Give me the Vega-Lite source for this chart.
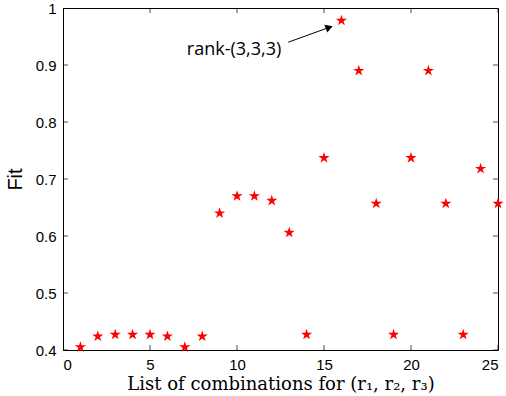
{
  "$schema": "https://vega.github.io/schema/vega-lite/v6.json",
  "width": 435,
  "height": 342,
  "autosize": "none",
  "padding": {"left": 63, "top": 8, "right": 8, "bottom": 46},
  "background": "white",
  "config": {
    "view": {"stroke": "black", "strokeWidth": 1},
    "axis": {"grid": false, "ticks": false, "domainColor": "black", "labelColor": "black", "titleColor": "black", "labelFont": "Liberation Sans", "labelFontSize": 15, "labelPadding": 7}
  },
  "layer": [
    {
      "data": {"values": [
        {"n": 1, "fit": 0.405}, {"n": 2, "fit": 0.424}, {"n": 3, "fit": 0.427}, {"n": 4, "fit": 0.427},
        {"n": 5, "fit": 0.427}, {"n": 6, "fit": 0.424}, {"n": 7, "fit": 0.405}, {"n": 8, "fit": 0.424},
        {"n": 9, "fit": 0.640}, {"n": 10, "fit": 0.670}, {"n": 11, "fit": 0.670}, {"n": 12, "fit": 0.662},
        {"n": 13, "fit": 0.606}, {"n": 14, "fit": 0.427}, {"n": 15, "fit": 0.737}, {"n": 16, "fit": 0.978},
        {"n": 17, "fit": 0.890}, {"n": 18, "fit": 0.657}, {"n": 19, "fit": 0.427}, {"n": 20, "fit": 0.737},
        {"n": 21, "fit": 0.890}, {"n": 22, "fit": 0.657}, {"n": 23, "fit": 0.427}, {"n": 24, "fit": 0.718},
        {"n": 25, "fit": 0.657}
      ]},
      "mark": {"type": "point", "shape": "M0,-1L0.2245,-0.309L0.951,-0.309L0.363,0.118L0.588,0.809L0,0.382L-0.588,0.809L-0.363,0.118L-0.951,-0.309L-0.2245,-0.309Z", "filled": false, "color": "red", "strokeWidth": 2, "size": 28, "opacity": 1, "clip": false},
      "encoding": {
        "x": {"field": "n", "type": "quantitative", "scale": {"domain": [0, 25], "nice": false, "zero": false},
          "axis": {"orient": "bottom", "values": [0, 5, 10, 15, 20, 25], "title": "List of combinations for (r₁, r₂, r₃)", "titleFont": "DejaVu Serif", "titleFontSize": 18, "titleFontWeight": "normal", "titlePadding": 3}},
        "y": {"field": "fit", "type": "quantitative", "scale": {"domain": [0.4, 1], "nice": false, "zero": false},
          "axis": {"orient": "left", "values": [0.4, 0.5, 0.6, 0.7, 0.8, 0.9, 1], "format": "~g", "title": "Fit", "titleFont": "Liberation Sans", "titleFontSize": 20, "titleFontWeight": "normal", "titlePadding": 10}}
      }
    },
    {
      "data": {"values": [{"v": 0}, {"v": 5}, {"v": 10}, {"v": 15}, {"v": 20}, {"v": 25}]},
      "mark": {"type": "tick", "orient": "vertical", "color": "black", "thickness": 1, "size": 10, "clip": true},
      "encoding": {
        "x": {"field": "v", "type": "quantitative"},
        "y": {"datum": 1, "type": "quantitative"}
      }
    },
    {
      "data": {"values": [{"v": 0}, {"v": 5}, {"v": 10}, {"v": 15}, {"v": 20}, {"v": 25}]},
      "mark": {"type": "tick", "orient": "vertical", "color": "black", "thickness": 1, "size": 10, "clip": true},
      "encoding": {
        "x": {"field": "v", "type": "quantitative"},
        "y": {"datum": 0.4, "type": "quantitative"}
      }
    },
    {
      "data": {"values": [{"v": 0.4}, {"v": 0.5}, {"v": 0.6}, {"v": 0.7}, {"v": 0.8}, {"v": 0.9}, {"v": 1}]},
      "mark": {"type": "tick", "orient": "horizontal", "color": "black", "thickness": 1, "size": 10, "clip": true},
      "encoding": {
        "y": {"field": "v", "type": "quantitative"},
        "x": {"datum": 25, "type": "quantitative"}
      }
    },
    {
      "data": {"values": [{"v": 0.4}, {"v": 0.5}, {"v": 0.6}, {"v": 0.7}, {"v": 0.8}, {"v": 0.9}, {"v": 1}]},
      "mark": {"type": "tick", "orient": "horizontal", "color": "black", "thickness": 1, "size": 10, "clip": true},
      "encoding": {
        "y": {"field": "v", "type": "quantitative"},
        "x": {"datum": 0, "type": "quantitative"}
      }
    },
    {
      "data": {"values": [{"ax": 12.95, "ay": 0.940, "bx": 15.3, "by": 0.966}]},
      "mark": {"type": "rule", "color": "black", "strokeWidth": 1},
      "encoding": {
        "x": {"field": "ax", "type": "quantitative"},
        "y": {"field": "ay", "type": "quantitative"},
        "x2": {"field": "bx"},
        "y2": {"field": "by"}
      }
    },
    {
      "data": {"values": [{"bx": 15.3, "by": 0.966}]},
      "mark": {"type": "point", "shape": "triangle-right", "filled": true, "color": "black", "size": 70, "angle": 340, "opacity": 1},
      "encoding": {
        "x": {"field": "bx", "type": "quantitative"},
        "y": {"field": "by", "type": "quantitative"}
      }
    },
    {
      "data": {"values": [{"tx": 9.83, "ty": 0.926, "t": "rank-(3,3,3)"}]},
      "mark": {"type": "text", "font": "Open Sans", "fontSize": 18, "color": "black"},
      "encoding": {
        "x": {"field": "tx", "type": "quantitative"},
        "y": {"field": "ty", "type": "quantitative"},
        "text": {"field": "t"}
      }
    }
  ]
}
